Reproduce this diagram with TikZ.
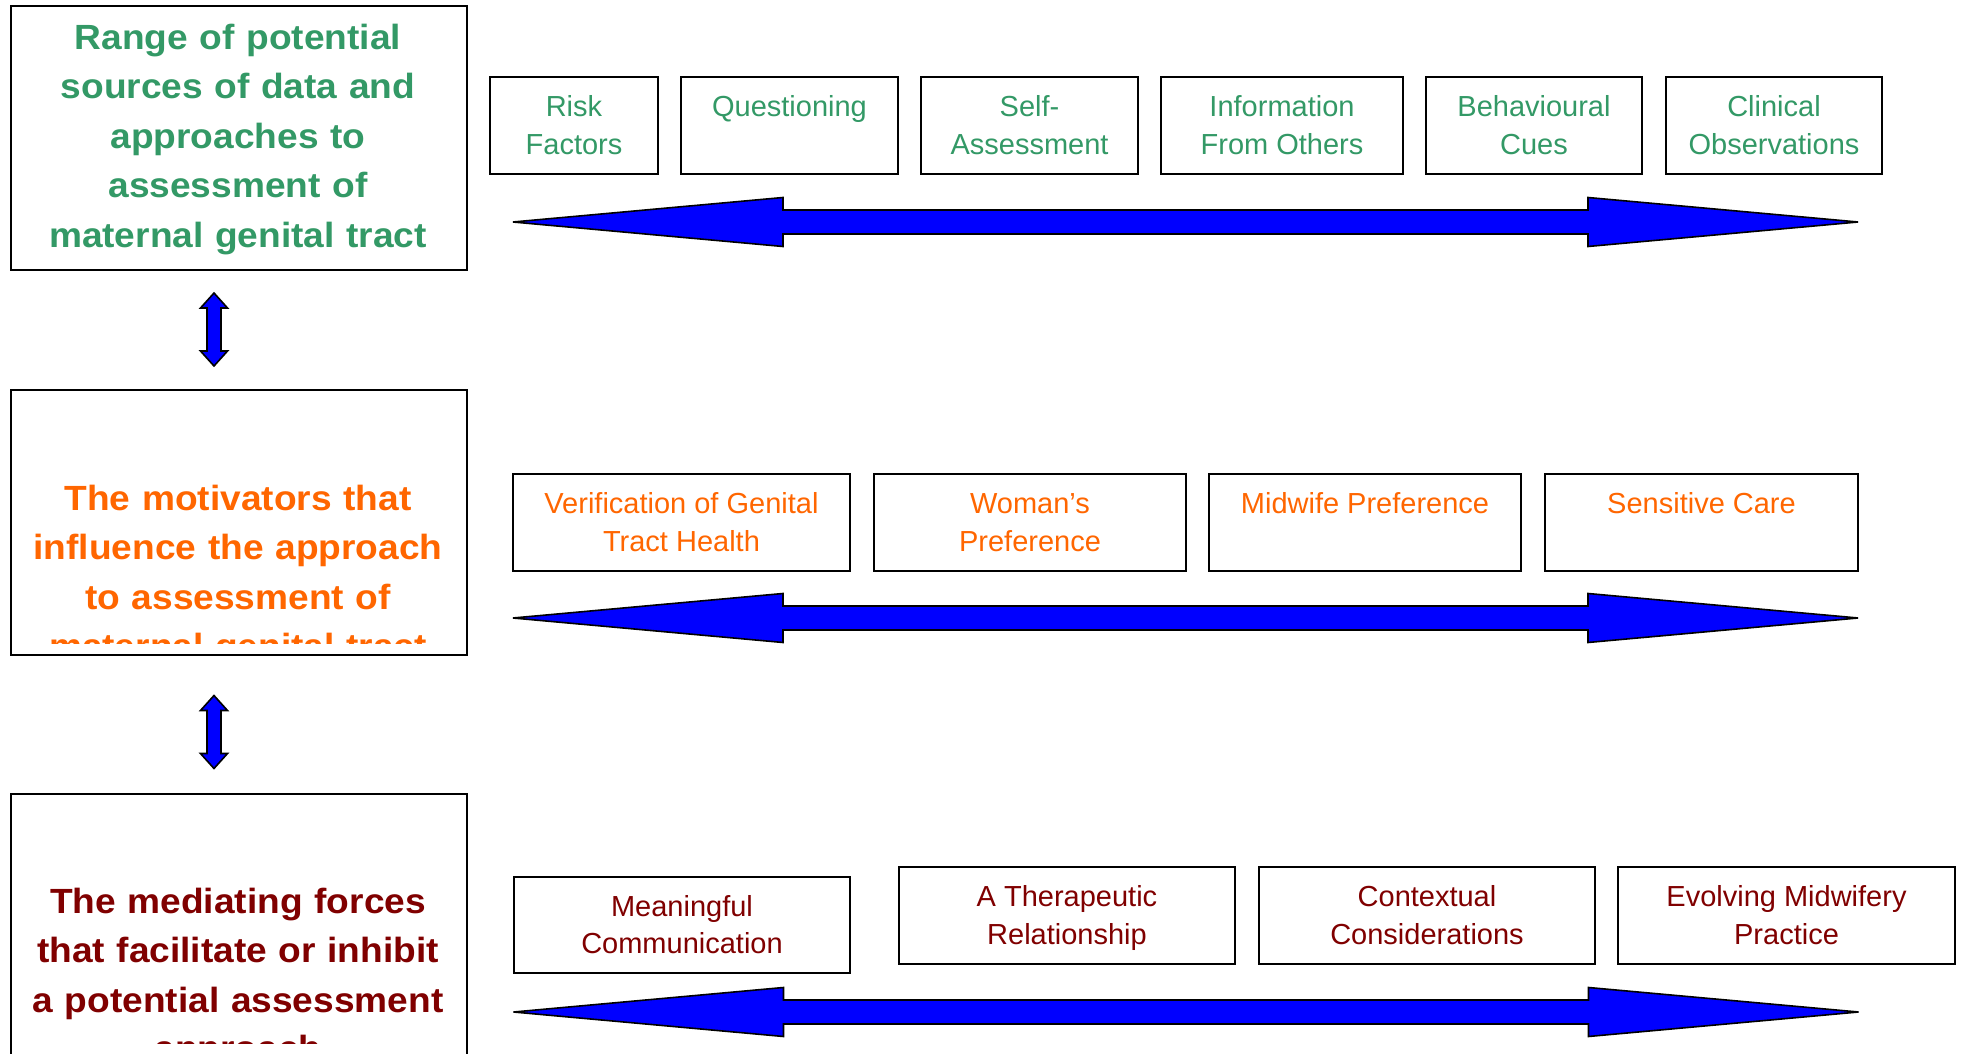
\documentclass[tikz,border=0pt]{standalone}
\usepackage{fontspec}
\setmainfont{Liberation Sans}
\newfontfamily\bigfont[FakeStretch=1.06]{Liberation Sans}
\definecolor{tgreen}{RGB}{51,153,102}
\definecolor{torange}{RGB}{255,102,0}
\definecolor{tred}{RGB}{128,0,0}
\definecolor{ablue}{RGB}{0,0,255}
\newcommand\tstr{\rule{0pt}{15.6pt}}
\begin{document}
\begin{tikzpicture}[x=0.5pt,y=-0.5pt,
  bigbox/.style={draw=black, line width=1pt, fill=white, inner sep=0pt, anchor=north west},
  bigtext/.style={font=\bigfont\bfseries\fontsize{17.5pt}{24.75pt}\selectfont, align=center, text width=228pt, inner sep=0pt, anchor=north},
  sbox/.style={draw=black, line width=1pt, fill=white, inner sep=0pt, align=center,
    font=\fontsize{14.5pt}{18.75pt}\selectfont, minimum height=48.5pt},
  harrow/.style={fill=ablue, draw=black, line width=0.8pt, line join=miter},
  hdbl/.pic={\path[harrow] (-672.5,0) -- (-402.5,-24.5) -- (-402.5,-12) -- (402.5,-12) -- (402.5,-24.5) -- (672.5,0) -- (402.5,24.5) -- (402.5,12) -- (-402.5,12) -- (-402.5,24.5) -- cycle;},
  vdbl/.pic={\path[harrow] (0,-36.5) -- (13.5,-21.5) -- (7,-21.5) -- (7,21.5) -- (13.5,21.5) -- (0,36.5) -- (-13.5,21.5) -- (-7,21.5) -- (-7,-21.5) -- (-13.5,-21.5) -- cycle;}
]
\clip (0,0) rectangle (1961,1054);
\fill[white] (0,0) rectangle (1961,1054);

% left boxes
\node[bigbox, minimum width=228pt, minimum height=132pt] (b1) at (10,5) {};
\node[bigbox, minimum width=228pt, minimum height=132.5pt] (b2) at (10,389) {};
\node[bigbox, minimum width=228pt, minimum height=150pt] (b3) at (10,793) {};

\node[bigtext, text=tgreen] (t1) at (238,14.35) {\strut Range of potential\\sources of data and\\approaches to\\assessment of\\maternal genital tract};

\begin{scope}
\clip (11,390) rectangle (465,643);
\node[bigtext, text=torange] (t2) at (238,475.35) {\strut The motivators that\\influence the approach\\to assessment of\\maternal genital tract};
\end{scope}

\begin{scope}
\clip (11,794) rectangle (465,1043);
\node[bigtext, text=tred] (t3) at (238,878.35) {\strut The mediating forces\\that facilitate or inhibit\\a potential assessment\\[-0.5pt]approach};
\end{scope}

% vertical double arrows
\pic at (214,329.5) {vdbl};
\pic at (214,732) {vdbl};

% row 1
\node[sbox, text=tgreen, minimum width=84pt] (r1) at (574,125.5) {\tstr\strut Risk\\\strut Factors};
\node[sbox, text=tgreen, minimum width=108.5pt] (r2) at (789.5,125.5) {\tstr\strut Questioning\\\strut};
\node[sbox, text=tgreen, minimum width=108.5pt] (r3) at (1029.5,125.5) {\tstr\strut Self-\\\strut Assessment};
\node[sbox, text=tgreen, minimum width=121pt] (r4) at (1282,125.5) {\tstr\strut Information\\\strut From Others};
\node[sbox, text=tgreen, minimum width=108pt] (r5) at (1534,125.5) {\tstr\strut Behavioural\\\strut Cues};
\node[sbox, text=tgreen, minimum width=108pt] (r6) at (1774,125.5) {\tstr\strut Clinical\\\strut Observations};
\pic at (1185.5,222) {hdbl};

% row 2
\node[sbox, text=torange, minimum width=168.5pt] (m1) at (681.5,522.5) {\tstr\strut Verification of Genital\\\strut Tract Health};
\node[sbox, text=torange, minimum width=156pt] (m2) at (1030,522.5) {\tstr\strut Woman’s\\\strut Preference};
\node[sbox, text=torange, minimum width=156pt] (m3) at (1365,522.5) {\tstr\strut Midwife Preference\\\strut};
\node[sbox, text=torange, minimum width=156.5pt] (m4) at (1701.5,522.5) {\tstr\strut Sensitive Care\\\strut};
\pic at (1185.5,618) {hdbl};

% row 3
\node[sbox, text=tred, minimum width=168pt, minimum height=48pt] (f1) at (682,925) {\tstr\strut Meaningful\\\strut Communication};
\node[sbox, text=tred, minimum width=168pt] (f2) at (1067,915.5) {\tstr\strut A Therapeutic\\\strut Relationship};
\node[sbox, text=tred, minimum width=168pt] (f3) at (1427,915.5) {\tstr\strut Contextual\\\strut Considerations};
\node[sbox, text=tred, minimum width=168.5pt] (f4) at (1786.5,915.5) {\tstr\strut Evolving Midwifery\\\strut Practice};
\pic at (1186,1012) {hdbl};
\end{tikzpicture}
\end{document}
